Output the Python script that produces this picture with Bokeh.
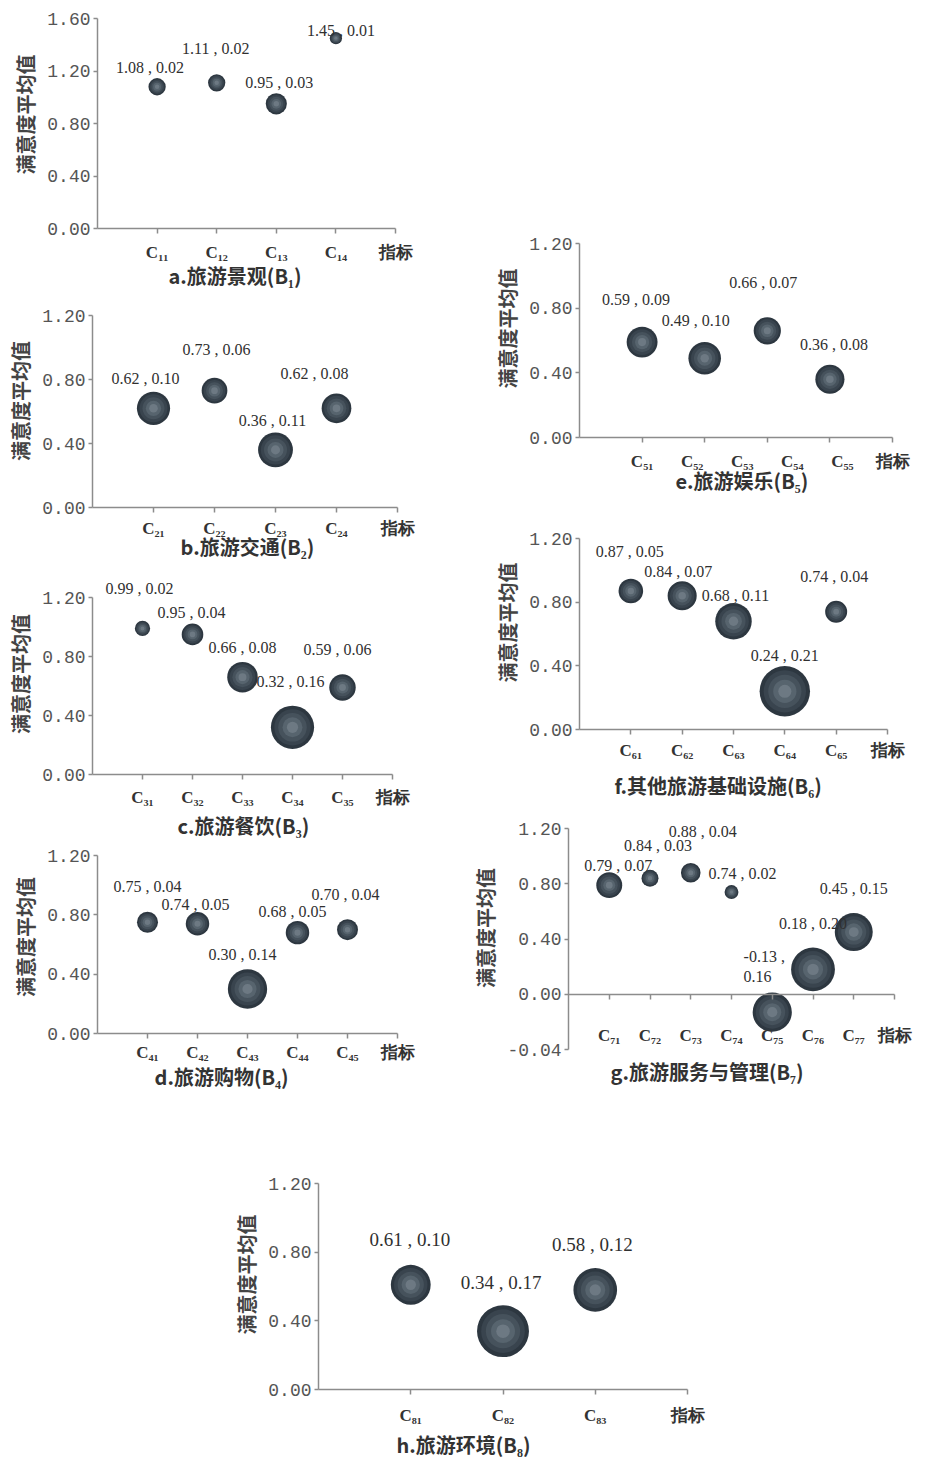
import math
from bokeh.plotting import figure
from bokeh.models import ColumnDataSource, FixedTicker, NumeralTickFormatter, Title, Spacer, LabelSet
from bokeh.layouts import column, row
from bokeh.embed import file_html
from bokeh.resources import INLINE
from bokeh.core.properties import value

# ---------------- data ----------------
Y_LABEL = "满意度平均值"
X_END = "指标"

a_cats = ["C₁₁", "C₁₂", "C₁₃", "C₁₄"]
a_mean = [1.08, 1.11, 0.95, 1.45]
a_var = [0.02, 0.02, 0.03, 0.01]
a_caption = "a.旅游景观(B₁)"

b_cats = ["C₂₁", "C₂₂", "C₂₃", "C₂₄"]
b_mean = [0.62, 0.73, 0.36, 0.62]
b_var = [0.10, 0.06, 0.11, 0.08]
b_caption = "b.旅游交通(B₂)"

c_cats = ["C₃₁", "C₃₂", "C₃₃", "C₃₄", "C₃₅"]
c_mean = [0.99, 0.95, 0.66, 0.32, 0.59]
c_var = [0.02, 0.04, 0.08, 0.16, 0.06]
c_caption = "c.旅游餐饮(B₃)"

d_cats = ["C₄₁", "C₄₂", "C₄₃", "C₄₄", "C₄₅"]
d_mean = [0.75, 0.74, 0.30, 0.68, 0.70]
d_var = [0.04, 0.05, 0.14, 0.05, 0.04]
d_caption = "d.旅游购物(B₄)"

e_cats = ["C₅₁", "C₅₂", "C₅₃", "C₅₄", "C₅₅"]
e_mean = [0.59, 0.49, 0.66, 0.36]
e_var = [0.09, 0.10, 0.07, 0.08]
e_caption = "e.旅游娱乐(B₅)"

f_cats = ["C₆₁", "C₆₂", "C₆₃", "C₆₄", "C₆₅"]
f_mean = [0.87, 0.84, 0.68, 0.24, 0.74]
f_var = [0.05, 0.07, 0.11, 0.21, 0.04]
f_caption = "f.其他旅游基础设施(B₆)"

g_cats = ["C₇₁", "C₇₂", "C₇₃", "C₇₄", "C₇₅", "C₇₆", "C₇₇"]
g_mean = [0.79, 0.84, 0.88, 0.74, -0.13, 0.18, 0.45]
g_var = [0.07, 0.03, 0.04, 0.02, 0.16, 0.20, 0.15]
g_caption = "g.旅游服务与管理(B₇)"

h_cats = ["C₈₁", "C₈₂", "C₈₃"]
h_mean = [0.61, 0.34, 0.58]
h_var = [0.10, 0.17, 0.12]
h_caption = "h.旅游环境(B₈)"

y_ticks_a = [0.0, 0.4, 0.8, 1.2, 1.6]
y_ticks_std = [0.0, 0.4, 0.8, 1.2]
y_ticks_g = [-0.4, 0.0, 0.4, 0.8, 1.2]
y_label_overrides_g = {-0.4: "-0.04"}

# ---------------- styling / layout ----------------
AXIS_COLOR = "#8c8c8c"
LAYERS = [(1.00, "#2d3740"), (0.84, "#39444e"), (0.66, "#46525c"), (0.46, "#57646e"), (0.26, "#6d7983")]


def panel(cats, mean, var, caption, y_ticks, geom, k, offsets, cap_off, cap_standoff,
          label_size="16px", y_over=None, cross_zero=False, spread_labels=False,
          lab_standoff=9, pad_right=0):
    fl, ft, fw, fh, fr, fb = geom
    n = len(mean)
    xs = list(range(1, n + 1))
    y0, y1 = y_ticks[0], y_ticks[-1]
    pad_top = min(24, ft)
    y_end = y1 + pad_top * (y1 - y0) / fh
    x_end = (n + 1) + pad_right * (n + 1) / fw
    p = figure(frame_width=fw + pad_right, frame_height=fh + pad_top,
               min_border_left=fl, min_border_top=ft - pad_top,
               min_border_right=fr - pad_right, min_border_bottom=fb,
               x_range=(0, x_end), y_range=(y0, y_end),
               output_backend="svg", toolbar_location=None, title=None)
    p.outline_line_color = None
    p.xgrid.visible = False
    p.ygrid.visible = False
    p.background_fill_color = "white"
    p.border_fill_color = "white"

    labs = [f"{m:.2f} , {v:.2f}" for m, v in zip(mean, var)]
    if cross_zero:
        labs = [t.replace(" , ", " ,\n") if m < 0 else t for t, m in zip(labs, mean)]
    src = dict(x=xs, y=mean, lab=labs,
               dx=[o[0] for o in offsets], dy=[-o[1] for o in offsets])
    for i, (f, _) in enumerate(LAYERS):
        src[f"s{i}"] = [k * math.sqrt(v) * f for v in var]
    source = ColumnDataSource(src)
    for i, (_, col) in enumerate(LAYERS):
        p.scatter(x="x", y="y", size=f"s{i}", source=source, fill_color=col, line_color=None)

    p.add_layout(LabelSet(x="x", y="y", text="lab", x_offset="dx", y_offset="dy", source=source,
                          text_align="center", text_baseline="middle",
                          text_font=value("Liberation Serif"), text_font_size=label_size,
                          text_color="#303030"))

    # x axis
    xa = p.xaxis[0]
    if spread_labels:
        step = (n - 1 + 0.2) / (len(cats) - 1)
        lab_pos = [round(1 + step * i, 3) for i in range(len(cats))]
    else:
        lab_pos = xs[:]
    xa.ticker = FixedTicker(ticks=lab_pos + [n + 1], minor_ticks=xs + [n + 1])
    ov = {pos: c for pos, c in zip(lab_pos, cats)}
    ov[n + 1] = X_END
    xa.major_label_overrides = ov
    xa.bounds = (0, n + 1)
    xa.major_tick_line_color = None
    xa.major_tick_out = 5
    xa.major_tick_in = 0
    xa.minor_tick_line_color = AXIS_COLOR
    xa.minor_tick_line_width = 1.5
    xa.minor_tick_out = 5
    xa.minor_tick_in = 0
    xa.axis_line_color = AXIS_COLOR
    xa.axis_line_width = 1.5
    xa.major_label_text_font = "Liberation Serif"
    xa.major_label_text_font_style = "bold"
    xa.major_label_text_font_size = "17px"
    xa.major_label_text_color = "#333333"
    xa.major_label_standoff = lab_standoff
    if cross_zero:
        xa.fixed_location = 0

    # y axis
    ya = p.yaxis[0]
    ya.ticker = FixedTicker(ticks=y_ticks)
    ya.formatter = NumeralTickFormatter(format="0.00")
    ya.bounds = (y0, y1)
    if y_over:
        ya.major_label_overrides = y_over
    ya.axis_line_color = AXIS_COLOR
    ya.axis_line_width = 1.5
    ya.major_tick_line_color = AXIS_COLOR
    ya.major_tick_line_width = 1.5
    ya.major_tick_out = 4
    ya.major_tick_in = 0
    ya.minor_tick_line_color = None
    ya.major_label_text_font = "Liberation Mono"
    ya.major_label_text_font_size = "18px"
    ya.major_label_text_color = "#555555"
    ya.major_label_standoff = 3
    ya.axis_label = Y_LABEL
    ya.axis_label_text_font = "Noto Sans CJK SC"
    ya.axis_label_text_font_style = "bold"
    ya.axis_label_text_font_size = "20px"
    ya.axis_label_text_color = "#444444"
    ya.axis_label_standoff = 4

    p.add_layout(Title(text=caption, align="left", offset=cap_off, standoff=cap_standoff,
                       text_font="Noto Sans CJK SC", text_font_style="bold",
                       text_font_size="20px", text_color="#333333"), "below")
    return p


# geometry: (min_border_left, top border to top tick, frame width, tick-span height, right, bottom)
pa = panel(a_cats, a_mean, a_var, a_caption, y_ticks_a, (92, 18, 298, 210, 63, 66), 122,
           [(-7, -19), (-1, -34), (3, -21), (5, -8)], 71, -11)
pb = panel(b_cats, b_mean, b_var, b_caption, y_ticks_std, (92, 21, 305, 192, 61, 58), 105,
           [(-8, -30), (2, -41), (-3, -29), (-22, -35)], 88, -22, lab_standoff=6)
pc = panel(c_cats, c_mean, c_var, c_caption, y_ticks_std, (92, 32, 300, 177, 66, 66), 108,
           [(-3, -40), (-1, -22), (0, -30), (-2, -46), (-5, -38)], 85, -2, lab_standoff=8)
pd_ = panel(d_cats, d_mean, d_var, d_caption, y_ticks_std, (92, 15, 300, 178, 61, 77), 105,
            [(0, -36), (-2, -19), (-5, -35), (-5, -21), (-2, -35)], 57, -9, lab_standoff=4)
pe = panel(e_cats, e_mean, e_var, e_caption, y_ticks_std, (102, 28, 313, 194, 28, 78), 103,
           [(-6, -43), (-9, -38), (-4, -48), (4, -35)], 96, -19, spread_labels=True, lab_standoff=9)
pf = panel(f_cats, f_mean, f_var, f_caption, y_ticks_std, (102, 23, 308, 191, 33, 76), 110,
           [(-1, -40), (-4, -24), (2, -26), (0, -36), (-2, -35)], 35, 13, lab_standoff=6)
pg = panel(g_cats, g_mean, g_var, g_caption, y_ticks_g, (102, 22, 326, 221, 30, 77), 98,
           [(9, -20), (8, -33), (12, -41), (11, -19), (-8, -46), (0, -46), (0, -44)], 42, 11,
           y_over=y_label_overrides_g, cross_zero=True, lab_standoff=27, pad_right=26)
ph = panel(h_cats, h_mean, h_var, h_caption, y_ticks_std, (118, 57, 369, 206, 40, 70), 126,
           [(-1, -45), (-2, -49), (-3, -45)], 78, 0, label_size="19px", lab_standoff=11)

left = column(row(Spacer(width=5, height=10), pa),
              row(Spacer(width=0, height=10), pb),
              row(Spacer(width=0, height=10), pc),
              row(Spacer(width=5, height=10), pd_))
right = column(Spacer(width=462, height=215),
               row(Spacer(width=19, height=10), pe),
               row(Spacer(width=19, height=10), pf),
               row(Spacer(width=8, height=10), pg))
top = row(left, right)
bottom = row(Spacer(width=200, height=10), ph)
root = column(top, bottom)

open("out.html", "w").write(file_html(root, INLINE))
